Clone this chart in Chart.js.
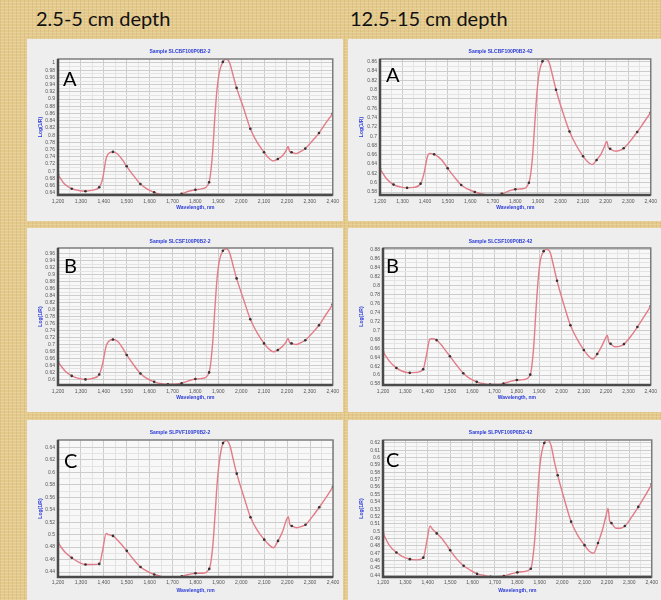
<!DOCTYPE html>
<html><head><meta charset="utf-8">
<script src="https://cdn.jsdelivr.net/npm/chart.js@4/dist/chart.umd.min.js"></script>
<style>
html,body{margin:0;padding:0;}
body{width:661px;height:600px;position:relative;overflow:hidden;
background-color:#e4c98c;
background-image:
 repeating-linear-gradient(0deg, rgba(255,250,220,0.18) 0 1px, rgba(0,0,0,0) 1px 3px),
 repeating-linear-gradient(90deg, rgba(140,95,30,0.10) 0 1px, rgba(0,0,0,0) 1px 4px);}
.panel{position:absolute;background:#eeeeee;}
.panel canvas{display:block;}
.hdr{position:absolute;font-family:Lato,"Open Sans",sans-serif;font-size:20px;line-height:20px;color:#111;white-space:nowrap;}
.lbl{position:absolute;font-family:Lato,"Open Sans",sans-serif;font-size:20px;line-height:20px;color:#000;}
</style></head><body>
<div class="hdr" style="left:36px;top:8px;">2.5-5 cm depth</div>
<div class="hdr" style="left:350px;top:8px;">12.5-15 cm depth</div>
<script>
// ---- data ----
const wavelengths = [1200,1230,1260,1290,1320,1350,1380,1395,1410,1420,1440,1460,1480,1500,1530,1560,1590,1620,1650,1680,1710,1740,1770,1800,1830,1860,1875,1885,1895,1905,1920,1935,1950,1965,1980,2010,2040,2070,2100,2120,2140,2160,2180,2195,2205,2212,2220,2240,2260,2280,2310,2340,2370,2400];
const markerWavelengths = [1200,1260,1320,1380,1440,1500,1560,1620,1680,1740,1800,1860,1920,1980,2040,2100,2160,2220,2280,2340,2400];
const xTickValues = [1200,1300,1400,1500,1600,1700,1800,1900,2000,2100,2200,2300,2400];

const seriesA1 = [0.691,0.664,0.652,0.647,0.645,0.648,0.656,0.680,0.735,0.749,0.754,0.748,0.733,0.714,0.688,0.665,0.651,0.642,0.636,0.633,0.633,0.638,0.645,0.649,0.652,0.670,0.750,0.850,0.930,0.975,1.003,1.011,1.000,0.965,0.931,0.876,0.818,0.780,0.753,0.737,0.729,0.734,0.743,0.756,0.769,0.755,0.753,0.749,0.755,0.763,0.784,0.806,0.834,0.860];
const seriesA2 = [0.630,0.608,0.596,0.591,0.589,0.590,0.598,0.620,0.656,0.663,0.661,0.655,0.645,0.631,0.612,0.595,0.586,0.580,0.576,0.573,0.574,0.576,0.582,0.586,0.587,0.600,0.650,0.720,0.790,0.835,0.861,0.866,0.858,0.830,0.800,0.752,0.710,0.680,0.657,0.645,0.639,0.649,0.662,0.678,0.689,0.676,0.673,0.668,0.669,0.674,0.690,0.709,0.730,0.751];
const seriesB1 = [0.650,0.625,0.610,0.603,0.600,0.603,0.614,0.645,0.695,0.708,0.714,0.709,0.692,0.670,0.642,0.617,0.602,0.593,0.588,0.586,0.586,0.589,0.596,0.601,0.603,0.620,0.700,0.800,0.890,0.940,0.968,0.974,0.962,0.925,0.889,0.830,0.772,0.733,0.703,0.688,0.679,0.684,0.694,0.706,0.717,0.705,0.703,0.700,0.705,0.712,0.732,0.755,0.785,0.815];
const seriesB2 = [0.652,0.630,0.616,0.608,0.605,0.606,0.613,0.645,0.680,0.681,0.678,0.668,0.655,0.642,0.622,0.604,0.592,0.585,0.581,0.579,0.579,0.581,0.586,0.589,0.590,0.601,0.660,0.740,0.810,0.855,0.876,0.880,0.872,0.842,0.810,0.758,0.711,0.680,0.656,0.643,0.636,0.647,0.664,0.680,0.689,0.674,0.670,0.663,0.664,0.669,0.686,0.707,0.730,0.754];
const seriesC1 = [0.487,0.472,0.463,0.456,0.452,0.452,0.453,0.475,0.502,0.500,0.498,0.491,0.483,0.474,0.460,0.448,0.441,0.436,0.433,0.431,0.431,0.433,0.436,0.438,0.438,0.445,0.480,0.530,0.585,0.620,0.647,0.651,0.643,0.620,0.598,0.562,0.528,0.507,0.492,0.484,0.479,0.490,0.505,0.522,0.529,0.516,0.514,0.511,0.513,0.516,0.529,0.544,0.560,0.577];
const seriesC2 = [0.497,0.480,0.471,0.465,0.462,0.461,0.464,0.485,0.507,0.503,0.497,0.491,0.483,0.474,0.462,0.453,0.447,0.442,0.440,0.438,0.438,0.439,0.442,0.444,0.445,0.449,0.480,0.520,0.570,0.600,0.620,0.624,0.617,0.595,0.576,0.543,0.513,0.494,0.481,0.473,0.470,0.484,0.502,0.520,0.531,0.514,0.511,0.504,0.504,0.507,0.519,0.533,0.548,0.564];

const yTicksA1 = [0.64,0.66,0.68,0.70,0.72,0.74,0.76,0.78,0.80,0.82,0.84,0.86,0.88,0.90,0.92,0.94,0.96,0.98,1.00];
const yTicksA2 = [0.58,0.60,0.62,0.64,0.66,0.68,0.70,0.72,0.74,0.76,0.78,0.80,0.82,0.84,0.86];
const yTicksB1 = [0.60,0.62,0.64,0.66,0.68,0.70,0.72,0.74,0.76,0.78,0.80,0.82,0.84,0.86,0.88,0.90,0.92,0.94,0.96];
const yTicksB2 = [0.58,0.60,0.62,0.64,0.66,0.68,0.70,0.72,0.74,0.76,0.78,0.80,0.82,0.84,0.86,0.88];
const yTicksC1 = [0.44,0.46,0.48,0.50,0.52,0.54,0.56,0.58,0.60,0.62,0.64];
const yTicksC2 = [0.44,0.45,0.46,0.47,0.48,0.49,0.50,0.51,0.52,0.53,0.54,0.55,0.56,0.57,0.58,0.59,0.60,0.61,0.62];

const yRangeA1 = [0.6345, 1.011];
const yRangeA2 = [0.5736, 0.866];
const yRangeB1 = [0.584, 0.976];
const yRangeB2 = [0.578, 0.883];
const yRangeC1 = [0.432, 0.652];
const yRangeC2 = [0.4377, 0.624];

const sampleTitles = ['Sample SLCBF100P0B2-2','Sample SLCBF100P0B2-42','Sample SLCSF100P0B2-2','Sample SLCSF100P0B2-42','Sample SLPVF100P0B2-2','Sample SLPVF100P0B2-42'];
const panelLetters = ['A','A','B','B','C','C'];
const xAxisTitle = 'Wavelength, nm';
const yAxisTitle = 'Log(1/R)';

// ---- layout (positions/sizes only) ----
const layoutCfg = [
 {x:27, y:39, w:316,h:182,padL:31,padR:10,padT:20,padB:26,titleC:13,xTitleOff:13,xLblPad:4,lx:63,ly:68},
 {x:348,y:39, w:313,h:182,padL:32,padR:8, padT:20,padB:26,titleC:13,xTitleOff:13,xLblPad:4,lx:386,ly:64},
 {x:27, y:228,w:316,h:184,padL:31,padR:10,padT:20,padB:27,titleC:14,xTitleOff:14,xLblPad:4,lx:64,ly:255},
 {x:348,y:228,w:313,h:184,padL:35,padR:8, padT:20,padB:27,titleC:14,xTitleOff:14,xLblPad:4,lx:386,ly:255},
 {x:27, y:420,w:316,h:180,padL:31,padR:10,padT:20,padB:23,titleC:13,xTitleOff:9,xLblPad:3,lx:64,ly:450},
 {x:348,y:420,w:313,h:180,padL:35,padR:8, padT:20,padB:23,titleC:13,xTitleOff:9,xLblPad:3,lx:386,ly:449}
];
const seriesList = [seriesA1,seriesA2,seriesB1,seriesB2,seriesC1,seriesC2];
const yTickList = [yTicksA1,yTicksA2,yTicksB1,yTicksB2,yTicksC1,yTicksC2];
const yRangeList = [yRangeA1,yRangeA2,yRangeB1,yRangeB2,yRangeC1,yRangeC2];

const tickFont = {family:'"Liberation Sans", Arial, sans-serif', size:5};
const blueFont = {family:'"Liberation Sans", Arial, sans-serif', size:5, weight:'bold'};
const BLUE = '#2b3bd6';

function withMinors(arr){
  const out=[];
  for(let i=0;i<arr.length;i++){
    out.push({value:arr[i], isMajor:true});
    if(i<arr.length-1) out.push({value:(arr[i]+arr[i+1])/2, isMajor:false});
  }
  return out;
}

const framePlugin = {
  id:'frame',
  beforeDatasetsDraw(chart){},
  beforeDraw(chart){
    const {ctx, chartArea:a} = chart;
    ctx.save(); ctx.fillStyle='#f8f8f8'; ctx.fillRect(a.left,a.top,a.right-a.left,a.bottom-a.top); ctx.restore();
  },
  afterDraw(chart){
    const {ctx, chartArea:a} = chart;
    ctx.save();
    ctx.strokeStyle='#7c7c7c'; ctx.lineWidth=1.5;
    ctx.strokeRect(a.left,a.top,a.right-a.left,a.bottom-a.top);
    ctx.strokeStyle='#4a4a4a'; ctx.lineWidth=2.5;
    ctx.beginPath(); ctx.moveTo(a.left,a.top); ctx.lineTo(a.left,a.bottom); ctx.lineTo(a.right,a.bottom); ctx.stroke();
    ctx.restore();
  }
};

layoutCfg.forEach((L,i)=>{
  const div=document.createElement('div');
  div.className='panel';
  div.style.cssText=`left:${L.x}px;top:${L.y}px;width:${L.w}px;height:${L.h}px;`;
  const cv=document.createElement('canvas');
  cv.width=L.w; cv.height=L.h;
  div.appendChild(cv);
  document.body.appendChild(div);
  const lab=document.createElement('div');
  lab.className='lbl'; lab.textContent=panelLetters[i];
  lab.style.left=L.lx+'px'; lab.style.top=L.ly+'px';
  document.body.appendChild(lab);

  const vals=seriesList[i];
  const yt=yTickList[i];
  const yr=yRangeList[i];
  new Chart(cv,{
    type:'line',
    data:{datasets:[{
      data:wavelengths.map((w,k)=>({x:w,y:vals[k]})),
      borderColor:'#e27c88', borderWidth:1.4, fill:false,
      cubicInterpolationMode:'monotone',
      pointRadius:wavelengths.map(w=>markerWavelengths.includes(w)?1.3:0),
      pointBackgroundColor:'#333', pointBorderWidth:0, pointHoverRadius:0
    }]},
    options:{
      responsive:false, animation:false, events:[],
      layout:{padding:{left:0,right:L.padR,top:0,bottom:0}},
      plugins:{
        legend:{display:false}, tooltip:{enabled:false},
        title:{display:true,text:sampleTitles[i],color:BLUE,font:blueFont,
          padding:{top:L.titleC-3,bottom:L.padT-(L.titleC-3)-6}}
      },
      scales:{
        x:{type:'linear',min:1200,max:2400,
          afterBuildTicks:s=>{s.ticks=withMinors(xTickValues);},
          afterFit:s=>{s.height=L.padB;},
          ticks:{autoSkip:false,maxRotation:0,padding:L.xLblPad,font:tickFont,color:'#555',
            callback:(v,idx,ticks)=>ticks[idx].isMajor?Number(v).toLocaleString('en-US'):''},
          grid:{drawTicks:false,color:c=>c.tick&&c.tick.isMajor?'#cdcdcd':'#e4e4e4',lineWidth:1},
          border:{display:false},
          title:{display:true,text:xAxisTitle,color:BLUE,font:blueFont,padding:{top:0,bottom:L.xTitleOff-3}}
        },
        y:{type:'linear',min:yr[0],max:yr[1],
          afterBuildTicks:s=>{s.ticks=withMinors(yt);},
          afterFit:s=>{s.width=L.padL;},
          ticks:{autoSkip:false,padding:3,font:tickFont,color:'#555',
            callback:(v,idx,ticks)=>ticks[idx].isMajor?String(Math.round(v*100)/100):''},
          grid:{drawTicks:false,color:c=>c.tick&&c.tick.isMajor?'#cdcdcd':'#e4e4e4',lineWidth:1},
          border:{display:false},
          title:{display:true,text:yAxisTitle,color:BLUE,font:blueFont,padding:{top:11,bottom:0}}
        }
      }
    },
    plugins:[framePlugin]
  });
});
</script>
</body></html>
